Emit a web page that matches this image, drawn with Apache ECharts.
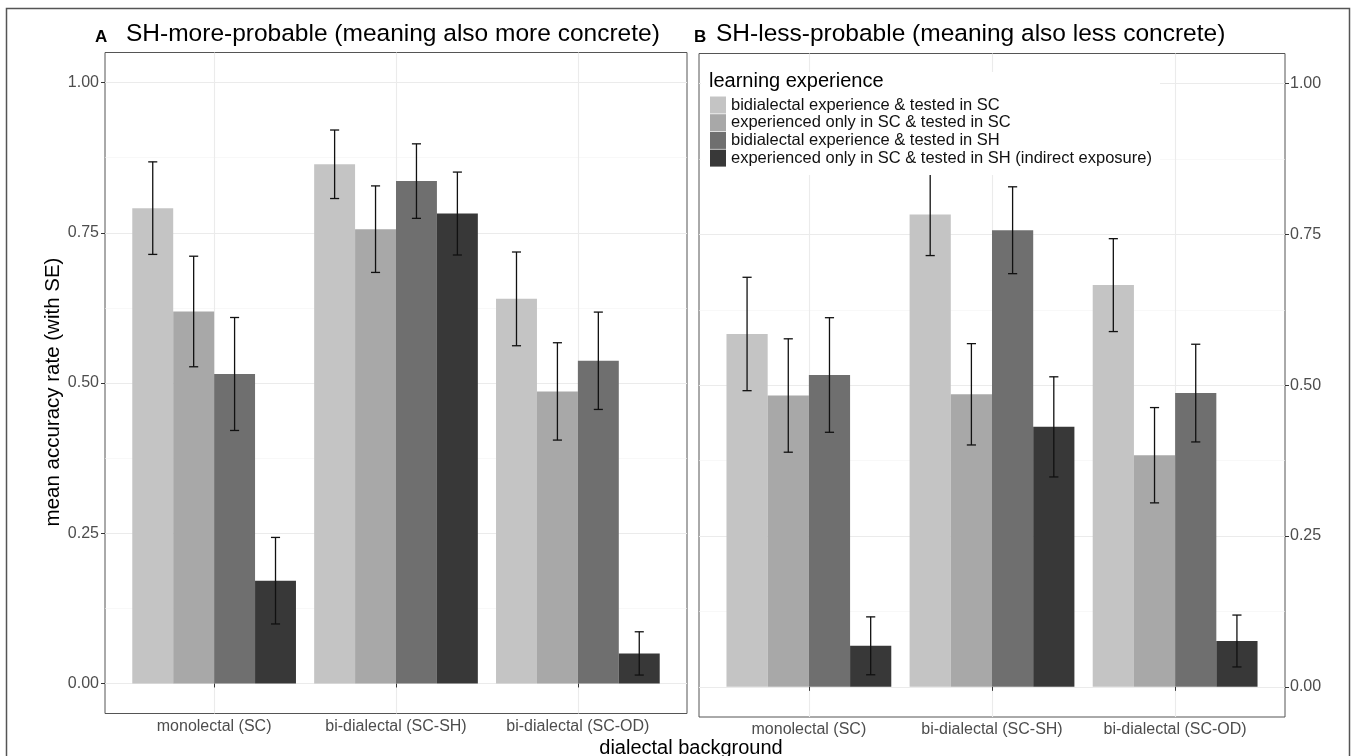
<!DOCTYPE html>
<html><head><meta charset="utf-8">
<script src="https://cdn.jsdelivr.net/npm/echarts@6/dist/echarts.min.js"></script>
<style>html,body{margin:0;padding:0;background:#fff}#c{width:1357px;height:756px}</style>
</head><body><div id="c"></div>
<script>
// ---- data ----
const categories = ['monolectal (SC)', 'bi-dialectal (SC-SH)', 'bi-dialectal (SC-OD)'];
const groups = [
  'bidialectal experience & tested in SC',
  'experienced only in SC & tested in SC',
  'bidialectal experience & tested in SH',
  'experienced only in SC & tested in SH (indirect exposure)'
];
const yTicks = [0, 0.25, 0.5, 0.75, 1];
const yMinorTicks = [0.125, 0.375, 0.625, 0.875];
const titleA = 'SH-more-probable (meaning also more concrete)';
const titleB = 'SH-less-probable (meaning also less concrete)';
const legendTitle = 'learning experience';
const xTitle = 'dialectal background';
const yTitle = 'mean accuracy rate (with SE)';

// Panel A: means and standard errors (per category)
const meanA_biSC   = [0.791, 0.864, 0.640];
const meanA_onlySC = [0.619, 0.756, 0.486];
const meanA_biSH   = [0.515, 0.836, 0.537];
const meanA_onlySH = [0.171, 0.782, 0.050];
const seA_biSC     = [0.077, 0.057, 0.078];
const seA_onlySC   = [0.092, 0.072, 0.081];
const seA_biSH     = [0.094, 0.062, 0.081];
const seA_onlySH   = [0.072, 0.069, 0.036];

// Panel B
const meanB_biSC   = [0.585, 0.783, 0.666];
const meanB_onlySC = [0.483, 0.485, 0.384];
const meanB_biSH   = [0.517, 0.757, 0.487];
const meanB_onlySH = [0.068, 0.431, 0.076];
const seB_biSC     = [0.094, 0.068, 0.077];
const seB_onlySC   = [0.094, 0.084, 0.079];
const seB_biSH     = [0.095, 0.072, 0.081];
const seB_onlySH   = [0.048, 0.083, 0.043];

// ---- styling ----
const colors = ['#c4c4c4', '#a8a8a8', '#6f6f6f', '#383838'];
const FONT = '"Liberation Sans", Arial, Helvetica, sans-serif';
const catPos = categories.map((_, i) => i + 1);
const BAR_W = 0.225, CAP_HALF = 0.025;

function makeSeries(gi, means, ses, axisIdx) {
  return {
    type: 'custom',
    name: groups[gi],
    xAxisIndex: axisIdx,
    yAxisIndex: axisIdx * 2,
    itemStyle: { color: colors[gi] },
    data: means.map((m, i) => [catPos[i], m, ses[i]]),
    encode: { x: 0, y: 1 },
    renderItem(params, api) {
      const c = api.value(0) + (gi - 1.5) * BAR_W;
      const m = api.value(1), se = api.value(2);
      const tl = api.coord([c - BAR_W / 2, m]);
      const br = api.coord([c + BAR_W / 2, 0]);
      const top = api.coord([c, m + se]);
      const bot = api.coord([c, m - se]);
      const cl = api.coord([c - CAP_HALF, m])[0];
      const cr = api.coord([c + CAP_HALF, m])[0];
      const ls = { stroke: '#111', lineWidth: 1.3 };
      return {
        type: 'group',
        children: [
          { type: 'rect', shape: { x: tl[0], y: tl[1], width: br[0] - tl[0], height: br[1] - tl[1] }, style: { fill: colors[gi] } },
          { type: 'line', shape: { x1: top[0], y1: top[1], x2: bot[0], y2: bot[1] }, style: ls },
          { type: 'line', shape: { x1: cl, y1: top[1], x2: cr, y2: top[1] }, style: ls },
          { type: 'line', shape: { x1: cl, y1: bot[1], x2: cr, y2: bot[1] }, style: ls }
        ]
      };
    }
  };
}

function xAxis(gi) {
  return {
    gridIndex: gi, type: 'value', min: 0.4, max: 3.6,
    axisLine: { show: false },
    axisTick: { show: true, customValues: catPos, length: 4, lineStyle: { color: '#333' } },
    axisLabel: { customValues: catPos, formatter: v => categories[Math.round(v) - 1], fontSize: 16, color: '#4d4d4d', margin: 5, fontFamily: FONT },
    splitLine: { show: true, lineStyle: { color: '#ebebeb', width: 1.1 } }
  };
}
function yMain(gi, pos, margin) {
  return {
    gridIndex: gi, type: 'value', min: -0.05, max: 1.05, position: pos,
    axisLine: { show: false },
    axisTick: { show: true, customValues: yTicks, length: 4, lineStyle: { color: '#333' } },
    axisLabel: { customValues: yTicks, formatter: v => v.toFixed(2), fontSize: 16, color: '#4d4d4d', margin: margin, fontFamily: FONT },
    splitLine: { show: true, lineStyle: { color: '#ebebeb', width: 1.1 } }
  };
}
function yMinor(gi, pos) {
  return {
    gridIndex: gi, type: 'value', min: -0.05, max: 1.05, position: pos,
    axisLine: { show: false },
    axisTick: { show: false, customValues: yMinorTicks },
    axisLabel: { show: false },
    splitLine: { show: true, lineStyle: { color: '#f3f3f3', width: 0.6 } }
  };
}

const chart = echarts.init(document.getElementById('c'), null, { renderer: 'canvas' });
chart.setOption({
  backgroundColor: '#fff',
  animation: false,
  textStyle: { fontFamily: FONT },
  grid: [
    { left: 105, top: 52.5, width: 582, height: 661, show: true, borderColor: '#555', borderWidth: 1, backgroundColor: '#fff' },
    { left: 699, top: 53.5, width: 586, height: 663.5, show: true, borderColor: '#555', borderWidth: 1, backgroundColor: '#fff' }
  ],
  xAxis: [xAxis(0), xAxis(1)],
  yAxis: [yMain(0, 'left', 6), yMinor(0, 'left'), yMain(1, 'right', 5), yMinor(1, 'right')],
  legend: {
    data: groups.map(n => ({ name: n, icon: 'rect' })),
    orient: 'vertical', left: 701, top: 72,
    padding: [24.5, 8, 8.5, 9],
    itemWidth: 16, itemHeight: 17, itemGap: 0.7,
    backgroundColor: '#fff', selectedMode: false, z: 10,
    textStyle: { fontSize: 16.5, color: '#111', fontFamily: FONT, lineHeight: 17 }
  },
  series: [
    makeSeries(0, meanA_biSC, seA_biSC, 0),
    makeSeries(1, meanA_onlySC, seA_onlySC, 0),
    makeSeries(2, meanA_biSH, seA_biSH, 0),
    makeSeries(3, meanA_onlySH, seA_onlySH, 0),
    makeSeries(0, meanB_biSC, seB_biSC, 1),
    makeSeries(1, meanB_onlySC, seB_onlySC, 1),
    makeSeries(2, meanB_biSH, seB_biSH, 1),
    makeSeries(3, meanB_onlySH, seB_onlySH, 1)
  ],
  graphic: [
    { type: 'rect', silent: true, z: -10, shape: { x: 6.5, y: 8.5, width: 1343, height: 800 }, style: { fill: 'none', stroke: '#555', lineWidth: 1.5 } },
    { type: 'text', x: 95, y: 37.5, style: { text: 'A', font: 'bold 17px ' + FONT, fill: '#000', verticalAlign: 'middle' } },
    { type: 'text', x: 126, y: 34.7, style: { text: titleA, font: '24.5px ' + FONT, fill: '#000', verticalAlign: 'middle' } },
    { type: 'text', x: 694, y: 37.5, style: { text: 'B', font: 'bold 17px ' + FONT, fill: '#000', verticalAlign: 'middle' } },
    { type: 'text', x: 716, y: 34.7, style: { text: titleB, font: '24.5px ' + FONT, fill: '#000', verticalAlign: 'middle' } },
    { type: 'text', z: 100, x: 709, y: 81, style: { text: legendTitle, font: '20px ' + FONT, fill: '#000', verticalAlign: 'middle' } },
    { type: 'text', x: 691, y: 748, style: { text: xTitle, font: '20px ' + FONT, fill: '#000', align: 'center', verticalAlign: 'middle' } },
    { type: 'text', x: 53, y: 392, rotation: Math.PI / 2, style: { text: yTitle, font: '20.5px ' + FONT, fill: '#000', align: 'center', verticalAlign: 'middle' } }
  ]
});
</script>
</body></html>
